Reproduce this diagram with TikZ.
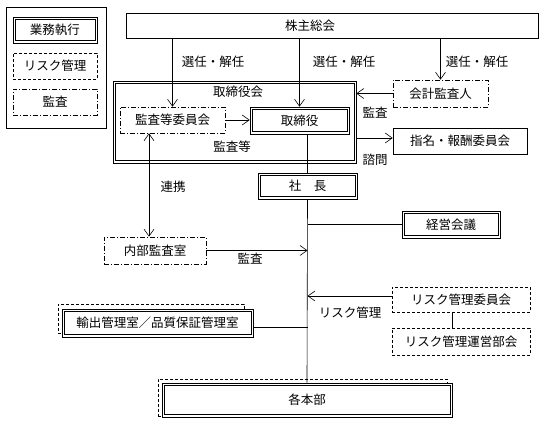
\documentclass[tikz,border=0pt]{standalone}
\usepackage{fontspec}
\setmainfont{Noto Sans CJK JP}
\usetikzlibrary{arrows.meta}

\begin{document}
\begin{tikzpicture}[x=1pt,y=-1pt,line width=0.6pt,
  font=\fontsize{12.5}{14}\selectfont,
  >={Straight Barb[length=7pt,width=10pt]},
  box/.style={draw, rectangle, inner sep=0pt, minimum height=26pt},
  exec/.style={box, path picture={\draw ([shift={(2.2pt,2.2pt)}]path picture bounding box.south west) rectangle ([shift={(-2.2pt,-2.2pt)}]path picture bounding box.north east);}},
  risk/.style={box, dash pattern=on 3pt off 2pt},
  audit/.style={box, dash pattern=on 5pt off 2pt on 1pt off 2pt},
  shadow/.style={draw, rectangle, inner sep=0pt, dash pattern=on 3pt off 2pt},
  lbl/.style={inner sep=0pt}]
\useasboundingbox (0,0) rectangle (547,430);

\node [draw, minimum width=100pt, minimum height=121pt] (legend) at (56,67.5) {};
\node [exec, minimum width=84pt] (legexec) at (55,30) {業務執行};
\node [risk, minimum width=84pt] (legrisk) at (55,66) {リスク管理};
\node [audit, minimum width=84pt] (legaudit) at (55,102) {監査};

\node [box, minimum width=412pt, minimum height=25pt] (agm) at (332,25.5) {株主総会\hspace*{44pt}};
\node [exec, minimum width=243pt, minimum height=82pt] (board) at (234.5,122) {};
\node [lbl] (boardlbl) at (238,92) {取締役会};
\node [lbl] (auditlbl) at (232,147) {監査等};
\node [audit, minimum width=105pt] (auditcomm) at (172.5,120) {監査等委員会};
\node [exec, minimum width=99pt, minimum height=27pt] (directors) at (299.5,120.5) {取締役};
\node [audit, minimum width=95pt, minimum height=27pt] (accountant) at (440.5,93.5) {会計監査人};
\node [box, minimum width=134pt] (nomination) at (460,141) {指名・報酬委員会};
\node [exec, minimum width=99pt] (president) at (307.5,186) {社\hspace{1em}長};
\node [exec, minimum width=98pt, minimum height=27pt] (mgmt) at (451,224.5) {経営会議};
\node [audit, minimum width=102pt, minimum height=27pt] (internal) at (155,250.5) {内部監査室};
\node [risk, minimum width=138pt, minimum height=25pt] (riskcomm) at (461,299.5) {リスク管理委員会};
\node [risk, minimum width=138pt, minimum height=27pt] (riskwg) at (461,341.5) {リスク管理運営部会};
\node [shadow, minimum width=186pt, minimum height=29pt] (exportshadow) at (151,318.5) {};
\node [exec, minimum width=191pt, minimum height=28pt, fill=white] (export) at (157.5,323) {輸出管理室／品質保証管理室};
\node [shadow, minimum width=289pt, minimum height=37pt] (divshadow) at (302.5,397.5) {};
\node [exec, minimum width=290pt, minimum height=34pt, fill=white] (divisions) at (307,400) {各本部};

\node [lbl] (elect1) at (213,62) {選任・解任};
\node [lbl] (elect2) at (344,62) {選任・解任};
\node [lbl] (elect3) at (477,62) {選任・解任};
\node [lbl] (auditlbl2) at (375,113) {監査};
\node [lbl] (consultlbl) at (375,160) {諮問};
\node [lbl] (linklbl) at (173,187) {連携};
\node [lbl] (auditlbl3) at (250,259) {監査};
\node [lbl] (risklbl) at (350,313) {リスク管理};

\draw [->] (auditcomm.north |- agm.south) -- (auditcomm.north);
\draw [->] (directors.north |- agm.south) -- (directors.north);
\draw [->] (accountant.north |- agm.south) -- (accountant.north);
\draw [->] (accountant.west) -- (accountant.west -| board.east);
\draw [->] ([yshift=3pt]nomination.west -| board.east) -- ([yshift=3pt]nomination.west);
\draw [->] (auditcomm.east) -- (auditcomm.east -| directors.west);
\draw [<->] ([xshift=-6pt]internal.north) -- ([xshift=-6pt]internal.north |- auditcomm.south);
\draw (president.north) -- (president.north |- directors.south);
\draw (president.south) -- (divisions.north);
\draw (mgmt.west) -- (mgmt.west -| president.south);
\draw [->] (internal.east) -- (internal.east -| president.south);
\draw [->] ([yshift=3.5pt]riskcomm.west) -- ([yshift=3.5pt]riskcomm.west -| president.south);
\draw ([xshift=-9pt]riskcomm.south) -- ([xshift=-9pt]riskcomm.south |- riskwg.north);
\draw ([yshift=-4pt]export.east) -- ([yshift=-4pt]export.east -| president.south);
\end{tikzpicture}
\end{document}
